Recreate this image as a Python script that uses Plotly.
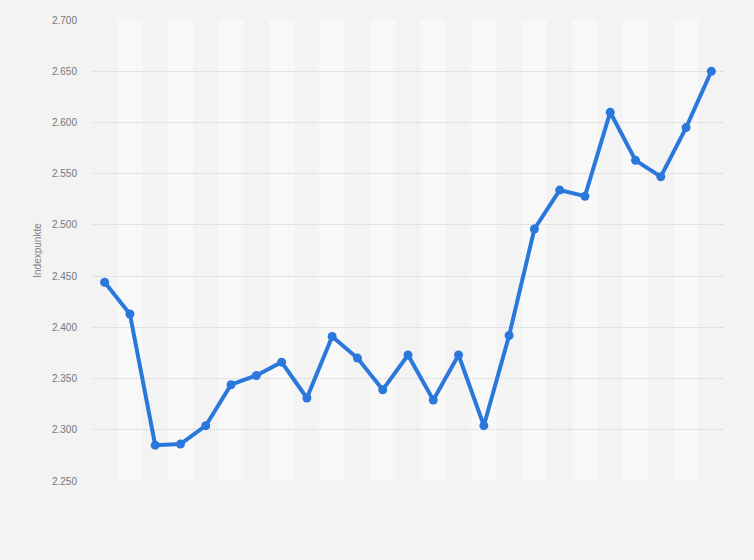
import plotly.graph_objects as go

# data
periods = list(range(1, 26))
index_points = [2444, 2413, 2285, 2286, 2304, 2344, 2353, 2366, 2331, 2391,
                2370, 2339, 2373, 2329, 2373, 2304, 2392, 2496, 2534, 2528,
                2610, 2563, 2547, 2595, 2650]
y_ticks = [2250, 2300, 2350, 2400, 2450, 2500, 2550, 2600, 2650, 2700]

blue = '#2a78dc'
bg = '#f3f3f3'
band = '#f8f8f8'

fig = go.Figure()

fig.add_trace(go.Scatter(x = periods, y = index_points,
                         mode = 'lines+markers',
                         line = dict(color = blue, width = 4),
                         marker = dict(color = blue, size = 9),
                         hoverinfo = 'y'))

# alternating column bands behind the grid
shapes = []
for i, p in enumerate(periods):
    if i % 2 == 1:
        shapes.append(dict(type = 'rect', xref = 'x', yref = 'y',
                           x0 = p - 0.5, x1 = p + 0.5,
                           y0 = y_ticks[0], y1 = y_ticks[-1],
                           fillcolor = band, line = dict(width = 0),
                           layer = 'below'))

fig.update_layout(
    width = 754, height = 560,
    margin = dict(l = 92, r = 30, t = 20, b = 79),
    paper_bgcolor = bg, plot_bgcolor = bg,
    separators = ',.',
    showlegend = False,
    shapes = shapes,
    font = dict(family = 'Liberation Sans, Arial, sans-serif', color = '#777777', size = 10),
    xaxis = dict(range = [0.5, 25.5], showticklabels = False, showgrid = False,
                 zeroline = False, showline = False, ticks = ''),
    yaxis = dict(range = [y_ticks[0], y_ticks[-1]], tickvals = y_ticks, tickformat = ',d',
                 showgrid = True, gridcolor = '#cfcfcf', gridwidth = 1, griddash = '1px,1px',
                 zeroline = False, showline = False, ticks = '', ticklabelstandoff = 14,
                 title = dict(text = 'Indexpunkte', font = dict(size = 10, color = '#808080'),
                              standoff = 8)),
)

# drop the default page margin so the figure sits at the window corner
fig.write_html("out.html", config = {'displayModeBar': False},
               post_script = "document.body.style.margin = '0';")
